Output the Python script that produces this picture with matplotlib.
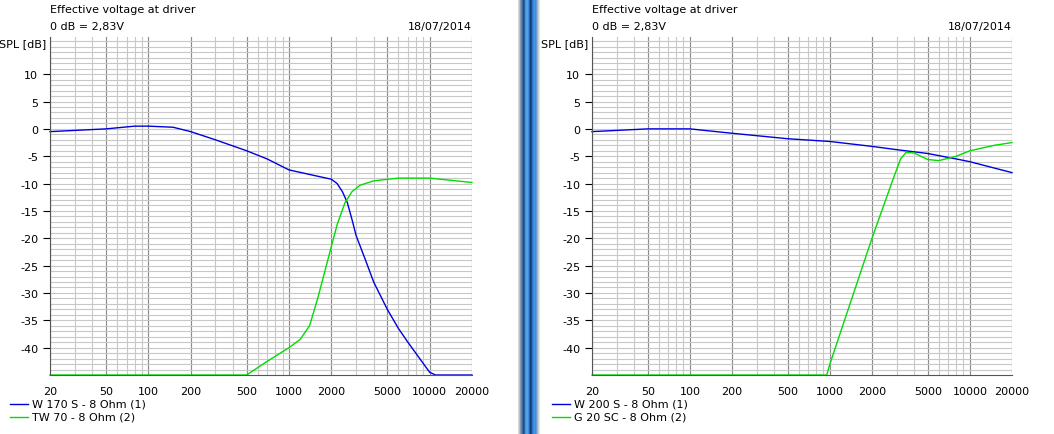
import numpy as np
import matplotlib.pyplot as plt
from matplotlib.ticker import FixedLocator, NullFormatter

W, H = 1054, 435

# left panel data
w170_f = [20, 50, 80, 100, 150, 200, 300, 500, 700, 1000, 1500, 2000, 2200, 2400, 2600, 2800, 3000, 3500, 4000, 5000, 6000, 7000, 8500, 10000, 11000, 20000]
w170_db = [-0.5, 0, 0.5, 0.5, 0.3, -0.5, -2, -4, -5.5, -7.5, -8.5, -9.2, -10, -11.5, -13.5, -16.5, -19.5, -24, -28, -33, -36.5, -39, -42, -44.5, -45, -45]
tw70_f = [20, 500, 700, 1000, 1200, 1400, 1600, 1800, 2000, 2200, 2500, 2800, 3200, 4000, 6000, 10000, 20000]
tw70_db = [-45, -45, -42.5, -40, -38.5, -36, -31, -26, -21.5, -17.5, -13.5, -11.5, -10.3, -9.5, -9, -9, -9.8]

# right panel data
w200_f = [20, 50, 100, 200, 500, 1000, 2000, 3000, 5000, 8000, 10000, 20000]
w200_db = [-0.5, 0, 0, -0.8, -1.8, -2.3, -3.2, -3.8, -4.5, -5.5, -6, -8]
g20_f = [20, 950, 1000, 2000, 2800, 3200, 3500, 4000, 5000, 6000, 8000, 10000, 15000, 20000]
g20_db = [-45, -45, -43, -20, -9.5, -5.5, -4.3, -4.4, -5.6, -5.8, -5, -4, -3, -2.5]

x_ticks = [20, 50, 100, 200, 500, 1000, 2000, 5000, 10000, 20000]
y_ticks = [10, 5, 0, -5, -10, -15, -20, -25, -30, -35, -40]

FONT = dict(fontsize=8, family="DejaVu Sans", color="black")

fig = plt.figure(figsize=(W / 100, H / 100), dpi=100)
fig.patch.set_facecolor("white")


def px(x, y):
    return x / W, 1 - y / H


def panel(x0, x1, curves, labels):
    top, bottom = 38, 376
    ax = fig.add_axes([x0 / W, 1 - bottom / H, (x1 - x0) / W, (bottom - top) / H])
    ax.set_xscale("log")
    ax.set_xlim(20, 20000)
    ax.set_ylim(-45, 16.8)
    minor_x = [m * d for d in (10, 100, 1000, 10000) for m in range(2, 11) if 20 <= m * d <= 20000]
    for f in minor_x:
        ax.axvline(f, color="#c8c8c8", lw=0.8, zorder=0)
    for f in x_ticks:
        ax.axvline(f, color="#8c8c8c", lw=0.8, zorder=0)
    for v in range(-44, 17):
        ax.axhline(v, color="#c8c8c8", lw=0.8, zorder=0)
    ax.xaxis.set_major_locator(FixedLocator(x_ticks))
    ax.xaxis.set_minor_locator(FixedLocator([]))
    ax.xaxis.set_minor_formatter(NullFormatter())
    ax.set_xticklabels([str(t) for t in x_ticks], **FONT)
    ax.set_yticks(y_ticks)
    ax.set_yticklabels([str(t) for t in y_ticks], **FONT)
    ax.tick_params(axis="y", length=5, width=0.8)
    ax.tick_params(axis="x", length=0, pad=8)
    for s in ("top", "right"):
        ax.spines[s].set_visible(False)
    for s in ("left", "bottom"):
        ax.spines[s].set_color("#555555")
    for (f, db), c in zip(curves, ["#0000dd", "#00dd00"]):
        ax.plot(f, db, color=c, lw=1, clip_on=False)

    fig.text(*px(x0, 10), "Effective voltage at driver", va="center", **FONT)
    fig.text(*px(x0, 27), "0 dB = 2,83V", va="center", **FONT)
    fig.text(*px(x1, 27), "18/07/2014", va="center", ha="right", **FONT)
    fig.text(*px(x0 - 4, 44), "SPL [dB]", va="center", ha="right", **FONT)
    for i, (lab, c) in enumerate(zip(labels, ["#0000dd", "#00dd00"])):
        y = 405 + 13 * i
        fig.add_artist(plt.Line2D([(x0 - 40) / W, (x0 - 22) / W], [1 - y / H] * 2, color=c, lw=1))
        fig.text(*px(x0 - 18, y), lab, va="center", **FONT)


panel(50, 472, [(w170_f, w170_db), (tw70_f, tw70_db)], ["W 170 S - 8 Ohm (1)", "TW 70 - 8 Ohm (2)"])
panel(592, 1012, [(w200_f, w200_db), (g20_f, g20_db)], ["W 200 S - 8 Ohm (1)", "G 20 SC - 8 Ohm (2)"])

# window separator strip
sep = fig.add_axes([518 / W, 0, 22 / W, 1])
cols = np.array([
    [0.85, 0.85, 0.85], [0.55, 0.6, 0.65], [0.25, 0.45, 0.7], [0.1, 0.25, 0.45],
    [0.3, 0.6, 0.9], [0.35, 0.65, 0.92], [0.2, 0.5, 0.85], [0.05, 0.2, 0.4],
    [0.15, 0.45, 0.8], [0.3, 0.6, 0.9], [0.25, 0.55, 0.85], [0.6, 0.7, 0.8], [0.9, 0.9, 0.9],
])
sep.imshow(cols[np.newaxis, :, :], aspect="auto", interpolation="bilinear")
sep.axis("off")

fig.savefig("out.png", dpi=100)
